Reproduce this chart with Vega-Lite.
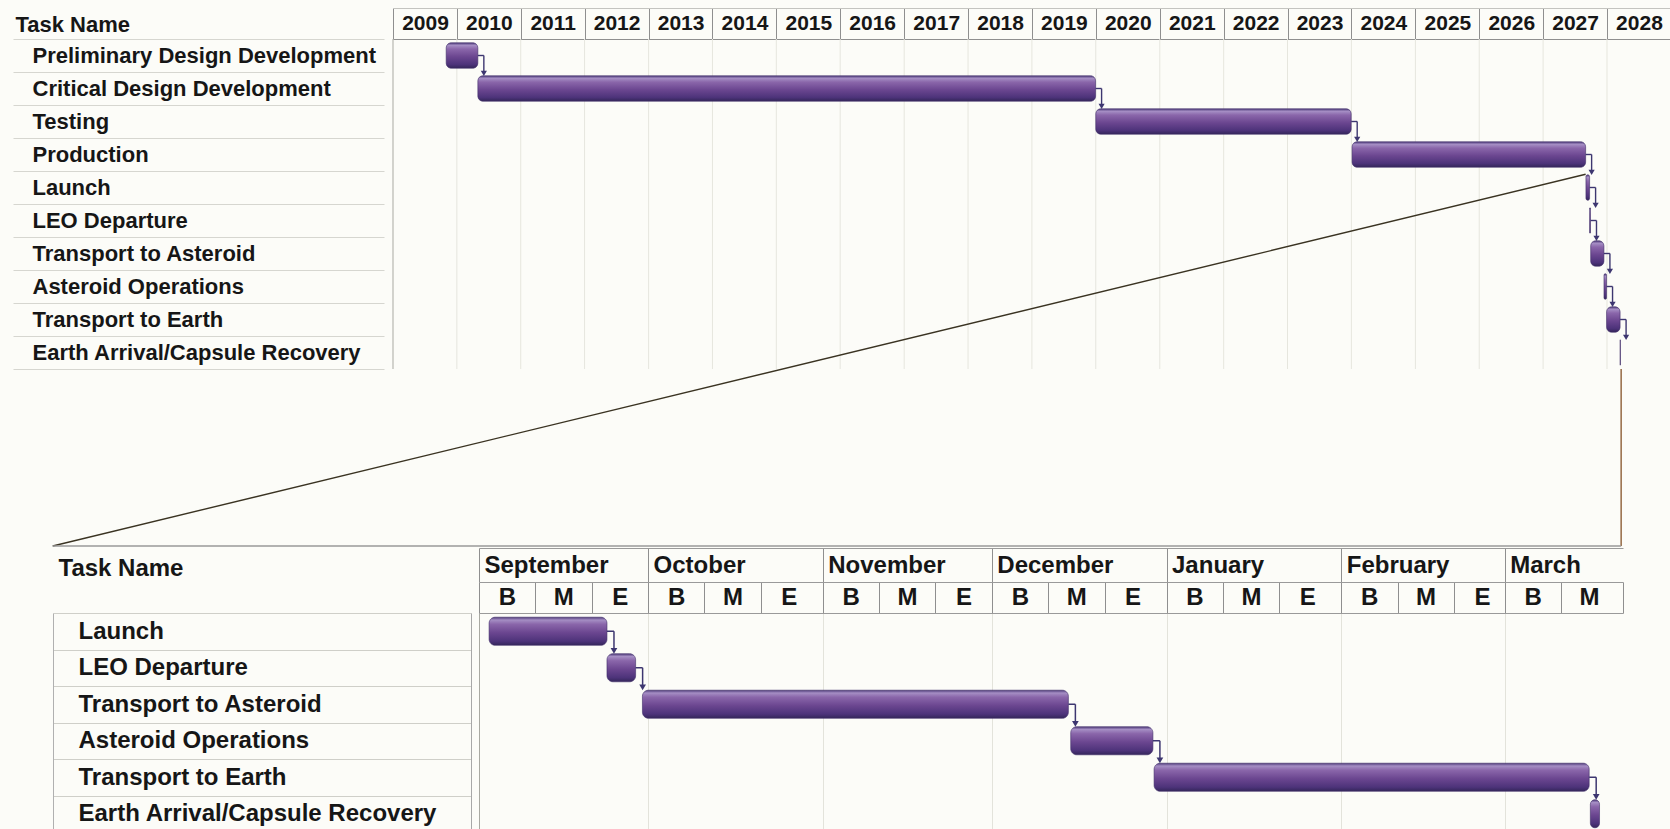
{
  "$schema": "https://vega.github.io/schema/vega-lite/v6.json",
  "background": "#fcfcf8",
  "padding": {"left": 12, "top": 7, "right": 0, "bottom": 0},
  "autosize": {"type": "pad"},
  "config": {
    "view": {"stroke": null},
    "font": "Liberation Sans",
    "axis": {"labelFont": "Liberation Sans", "titleFont": "Liberation Sans", "labelColor": "#161616", "titleColor": "#161616"}
  },
  "datasets": {
    "tasks": [
      {"task": "Preliminary Design Development", "start": "2009-11-01T00:00", "end": "2010-05-01T00:00", "next": "Critical Design Development", "phase": "design"},
      {"task": "Critical Design Development", "start": "2010-05-01T00:00", "end": "2019-12-31T00:00", "next": "Testing", "phase": "design"},
      {"task": "Testing", "start": "2020-01-01T00:00", "end": "2023-12-31T00:00", "next": "Production", "phase": "design"},
      {"task": "Production", "start": "2024-01-05T00:00", "end": "2027-09-01T00:00", "next": "Launch", "phase": "design"},
      {"task": "Launch", "start": "2027-09-02T19:00", "end": "2027-09-23T17:00", "next": "LEO Departure", "phase": "mission"},
      {"task": "LEO Departure", "start": "2027-09-23T17:00", "end": "2027-09-28T19:00", "next": "Transport to Asteroid", "phase": "mission"},
      {"task": "Transport to Asteroid", "start": "2027-09-30T00:00", "end": "2027-12-14T14:00", "next": "Asteroid Operations", "phase": "mission"},
      {"task": "Asteroid Operations", "start": "2027-12-15T00:00", "end": "2027-12-29T14:00", "next": "Transport to Earth", "phase": "mission"},
      {"task": "Transport to Earth", "start": "2027-12-29T19:00", "end": "2028-03-16T00:00", "next": "Earth Arrival/Capsule Recovery", "phase": "mission"},
      {"task": "Earth Arrival/Capsule Recovery", "start": "2028-03-16T05:00", "end": "2028-03-17T20:00", "next": null, "phase": "mission"}
    ],
    "years": [
      {"yr": "2009-01-01T00:00"}, {"yr": "2010-01-01T00:00"}, {"yr": "2011-01-01T00:00"}, {"yr": "2012-01-01T00:00"},
      {"yr": "2013-01-01T00:00"}, {"yr": "2014-01-01T00:00"}, {"yr": "2015-01-01T00:00"}, {"yr": "2016-01-01T00:00"},
      {"yr": "2017-01-01T00:00"}, {"yr": "2018-01-01T00:00"}, {"yr": "2019-01-01T00:00"}, {"yr": "2020-01-01T00:00"},
      {"yr": "2021-01-01T00:00"}, {"yr": "2022-01-01T00:00"}, {"yr": "2023-01-01T00:00"}, {"yr": "2024-01-01T00:00"},
      {"yr": "2025-01-01T00:00"}, {"yr": "2026-01-01T00:00"}, {"yr": "2027-01-01T00:00"}, {"yr": "2028-01-01T00:00"},
      {"yr": "2029-01-01T00:00"}
    ],
    "zoom": [
      {"from": "2027-09-01T00:00", "to": "2028-03-22T00:00", "edge": "2003-09-05T00:00"}
    ]
  },
  "spacing": 0,
  "vconcat": [
    {
      "width": 1192,
      "height": 507,
      "resolve": {"axis": {"x": "independent", "y": "independent"}},
      "layer": [
        {
          "data": {"name": "years"},
          "mark": {"type": "rule", "strokeWidth": 1},
          "encoding": {
            "x": {
              "field": "yr", "type": "temporal",
              "scale": {"domain": [{"year": 2009, "month": 1, "date": 1}, {"year": 2029, "month": 1, "date": 1}], "nice": false, "range": [-86, 1192]},
              "axis": {"orient": "top", "offset": 0, "domain": true, "domainColor": "#8f8f8f", "domainWidth": 1, "ticks": false, "labels": false, "grid": false, "title": null}
            },
            "y": {"datum": "Preliminary Design Development", "bandPosition": 0, "axis": null},
            "y2": {"datum": "Earth Arrival/Capsule Recovery", "bandPosition": 1},
            "color": {"condition": {"test": "year(datum.yr) == 2009", "value": "#a9a9a2"}, "value": "#e6e6de"}
          }
        },
        {
          "data": {"name": "tasks"},
          "mark": {
            "type": "bar", "height": {"band": 0.77}, "cornerRadius": 5, "stroke": "#3f2d68", "strokeWidth": 0.6,
            "fill": {"gradient": "linear", "x1": 0, "y1": 0, "x2": 0, "y2": 1, "stops": [
              {"offset": 0, "color": "#4e3a7a"}, {"offset": 0.1, "color": "#a58ec4"}, {"offset": 0.25, "color": "#8a66aa"},
              {"offset": 0.55, "color": "#6b4690"}, {"offset": 0.85, "color": "#4d337a"}, {"offset": 1, "color": "#34265a"}]}
          },
          "encoding": {
            "x": {
              "field": "start", "type": "temporal",
              "axis": {
                "orient": "top", "offset": 31, "tickCount": {"interval": "year", "step": 1}, "format": "%Y",
                "labelExpr": "year(datum.value) > 2028 ? '' : datum.label",
                "tickSize": -31, "tickColor": "#8f8f8f", "tickWidth": 1, "domain": true, "domainColor": "#c4c4c0",
                "labelOffset": 32, "labelPadding": 15.5, "labelBaseline": "middle", "labelAlign": "center",
                "labelFontSize": 21, "labelFontWeight": "bold", "labelFlush": false, "labelOverlap": false, "labelBound": false,
                "grid": false, "title": null
              }
            },
            "x2": {"field": "end"},
            "y": {
              "field": "task", "type": "nominal",
              "scale": {"domain": ["Preliminary Design Development", "Critical Design Development", "Testing", "Production", "Launch", "LEO Departure", "Transport to Asteroid", "Asteroid Operations", "Transport to Earth", "Earth Arrival/Capsule Recovery"], "paddingInner": 0, "paddingOuter": 0, "range": [0, 330]},
              "axis": {
                "orient": "left", "offset": 95, "domain": false, "tickBand": "extent", "tickSize": 371,
                "tickColor": "#d6d6d0", "labelAlign": "left", "labelPadding": -19, "labelBaseline": "middle",
                "labelFontSize": 22, "labelFontWeight": "bold", "labelLimit": 0, "grid": false, "maxExtent": 800,
                "title": "Task Name", "titleAngle": 0, "titleAlign": "left", "titleBaseline": "middle",
                "titleX": -369, "titleY": -15, "titleFontSize": 22, "titleFontWeight": "bold"
              }
            }
          }
        },
        {
          "data": {"name": "tasks"},
          "transform": [{"filter": "datum.next != null"}],
          "mark": {"type": "rule", "color": "#3d3670", "strokeWidth": 1.4, "x2Offset": 6},
          "encoding": {
            "x": {"field": "end", "type": "temporal", "axis": null},
            "x2": {"field": "end"},
            "y": {"field": "task", "type": "nominal", "axis": null}
          }
        },
        {
          "data": {"name": "tasks"},
          "transform": [{"filter": "datum.next != null"}],
          "mark": {"type": "rule", "color": "#3d3670", "strokeWidth": 1.4, "xOffset": 6},
          "encoding": {
            "x": {"field": "end", "type": "temporal", "axis": null},
            "y": {"field": "task", "type": "nominal", "axis": null},
            "y2": {"field": "next", "bandPosition": 0.03}
          }
        },
        {
          "data": {"name": "tasks"},
          "transform": [{"filter": "datum.next != null"}],
          "mark": {"type": "point", "shape": "triangle-down", "filled": true, "size": 38, "color": "#3d3670", "opacity": 1, "xOffset": 6},
          "encoding": {
            "x": {"field": "end", "type": "temporal", "axis": null},
            "y": {"field": "next", "type": "nominal", "bandPosition": 0.04, "axis": null}
          }
        },
        {
          "data": {"name": "zoom"},
          "mark": {"type": "rule", "color": "#3a3322", "strokeWidth": 1.4},
          "encoding": {
            "x": {"field": "from", "type": "temporal", "axis": null},
            "y": {"datum": "Launch", "bandPosition": 0.1, "axis": null},
            "x2": {"field": "edge"},
            "y2": {"value": "height"}
          }
        },
        {
          "data": {"name": "zoom"},
          "mark": {"type": "rule", "color": "#8d5e36", "strokeWidth": 1.4},
          "encoding": {
            "x": {"field": "to", "type": "temporal", "axis": null},
            "y": {"datum": "Earth Arrival/Capsule Recovery", "bandPosition": 1, "axis": null},
            "y2": {"value": "height"}
          }
        },
        {
          "data": {"name": "zoom"},
          "mark": {"type": "rule", "color": "#9a9a9a", "strokeWidth": 1.4},
          "encoding": {
            "x": {"field": "edge", "type": "temporal", "axis": null},
            "x2": {"field": "to"},
            "y": {"value": "height"}
          }
        }
      ]
    },
    {
      "width": 1144,
      "height": 219,
      "resolve": {"axis": {"x": "independent", "y": "independent"}},
      "layer": [
        {
          "data": {"name": "tasks"},
          "transform": [{"filter": "datum.phase == 'mission'"}],
          "mark": {
            "type": "bar", "height": {"band": 0.77}, "cornerRadius": 6, "stroke": "#3f2d68", "strokeWidth": 0.6,
            "fill": {"gradient": "linear", "x1": 0, "y1": 0, "x2": 0, "y2": 1, "stops": [
              {"offset": 0, "color": "#4e3a7a"}, {"offset": 0.1, "color": "#a58ec4"}, {"offset": 0.25, "color": "#8a66aa"},
              {"offset": 0.55, "color": "#6b4690"}, {"offset": 0.85, "color": "#4d337a"}, {"offset": 1, "color": "#34265a"}]}
          },
          "encoding": {
            "x": {
              "field": "start", "type": "temporal",
              "scale": {"domain": [{"year": 2027, "month": 9, "date": 1}, {"year": 2028, "month": 3, "date": 22}], "nice": false},
              "axis": {
                "orient": "top", "offset": 65, "tickCount": {"interval": "month", "step": 1}, "format": "%B",
                "tickSize": -34, "tickColor": "#8f8f8f", "domain": true, "domainColor": "#9a9a9a",
                "labelAlign": "left", "labelOffset": 5, "labelPadding": 17, "labelBaseline": "middle",
                "labelFontSize": 24, "labelFontWeight": "bold", "labelFlush": false, "labelOverlap": false, "labelBound": false,
                "grid": false, "title": null
              }
            },
            "x2": {"field": "end"},
            "y": {
              "field": "task", "type": "nominal",
              "scale": {"domain": ["Launch", "LEO Departure", "Transport to Asteroid", "Asteroid Operations", "Transport to Earth", "Earth Arrival/Capsule Recovery"], "paddingInner": 0, "paddingOuter": 0},
              "axis": {
                "orient": "left", "offset": 8, "domain": true, "domainColor": "#a8a8a8", "tickBand": "extent", "tickSize": 418,
                "tickColor": "#cfcfc9", "labelAlign": "left", "labelPadding": -25, "labelBaseline": "middle",
                "labelFontSize": 24, "labelFontWeight": "bold", "labelLimit": 0, "grid": false, "minExtent": 458, "maxExtent": 800,
                "title": "Task Name", "titleAngle": 0, "titleAlign": "left", "titleBaseline": "middle",
                "titleX": -413, "titleY": -45, "titleFontSize": 24, "titleFontWeight": "bold"
              }
            }
          }
        },
        {
          "data": {"name": "tasks"},
          "transform": [{"filter": "datum.phase == 'mission' && datum.next != null"}],
          "mark": {"type": "rule", "color": "#3d3670", "strokeWidth": 1.5, "x2Offset": 7},
          "encoding": {
            "x": {
              "field": "end", "type": "temporal",
              "axis": {
                "orient": "top", "offset": 31,
                "values": [
                  {"year": 2027, "month": 9, "date": 1}, {"year": 2027, "month": 9, "date": 11}, {"year": 2027, "month": 9, "date": 21},
                  {"year": 2027, "month": 10, "date": 1}, {"year": 2027, "month": 10, "date": 11}, {"year": 2027, "month": 10, "date": 21},
                  {"year": 2027, "month": 11, "date": 1}, {"year": 2027, "month": 11, "date": 11}, {"year": 2027, "month": 11, "date": 21},
                  {"year": 2027, "month": 12, "date": 1}, {"year": 2027, "month": 12, "date": 11}, {"year": 2027, "month": 12, "date": 21},
                  {"year": 2028, "month": 1, "date": 1}, {"year": 2028, "month": 1, "date": 11}, {"year": 2028, "month": 1, "date": 21},
                  {"year": 2028, "month": 2, "date": 1}, {"year": 2028, "month": 2, "date": 11}, {"year": 2028, "month": 2, "date": 21},
                  {"year": 2028, "month": 3, "date": 1}, {"year": 2028, "month": 3, "date": 11}, {"year": 2028, "month": 3, "date": 22}
                ],
                "labelExpr": "date(datum.value) == 1 ? 'B' : date(datum.value) == 11 ? 'M' : date(datum.value) == 21 ? 'E' : ''",
                "tickSize": -31, "tickColor": "#8f8f8f", "domain": true, "domainColor": "#9a9a9a",
                "labelAlign": "center", "labelOffset": 28, "labelPadding": 15.5, "labelBaseline": "middle",
                "labelFontSize": 24, "labelFontWeight": "bold", "labelFlush": false, "labelOverlap": false, "labelBound": false,
                "grid": false, "title": null
              }
            },
            "x2": {"field": "end"},
            "y": {"field": "task", "type": "nominal", "axis": null}
          }
        },
        {
          "data": {"name": "tasks"},
          "transform": [{"filter": "datum.phase == 'mission' && datum.next != null"}],
          "mark": {"type": "rule", "color": "#3d3670", "strokeWidth": 1.5, "xOffset": 7},
          "encoding": {
            "x": {
              "field": "end", "type": "temporal",
              "axis": {
                "orient": "top", "offset": 0, "tickCount": {"interval": "month", "step": 1}, "domain": true, "domainColor": "#9a9a9a",
                "ticks": false, "labels": false, "grid": true,
                "gridColor": {"condition": {"test": "month(datum.value) == 8", "value": "#a9a9a2"}, "value": "#e3e3db"},
                "title": null
              }
            },
            "y": {
              "field": "task", "type": "nominal",
              "axis": {"orient": "left", "offset": 426, "domain": true, "domainColor": "#b0b0b0", "ticks": false, "labels": false, "grid": false, "title": null, "minExtent": 0}
            },
            "y2": {"field": "next", "bandPosition": 0.03}
          }
        },
        {
          "data": {"name": "tasks"},
          "transform": [{"filter": "datum.phase == 'mission' && datum.next != null"}],
          "mark": {"type": "point", "shape": "triangle-down", "filled": true, "size": 45, "color": "#3d3670", "opacity": 1, "xOffset": 7},
          "encoding": {
            "x": {"field": "end", "type": "temporal", "axis": null},
            "y": {"field": "next", "type": "nominal", "bandPosition": 0.04, "axis": null}
          }
        }
      ]
    }
  ]
}
